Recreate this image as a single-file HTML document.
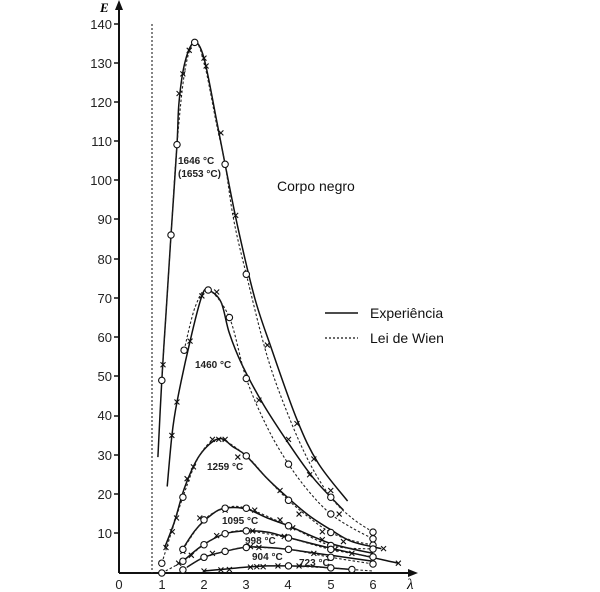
<!DOCTYPE html>
<html><head><meta charset="utf-8"><style>
html,body{margin:0;padding:0;background:#fff;}
svg{display:block;font-family:"Liberation Sans",sans-serif;}
</style></head><body>
<svg id="s" width="600" height="592" viewBox="0 0 600 592" xmlns="http://www.w3.org/2000/svg">
<g font-size="13" fill="#222" text-anchor="end">
<text x="112" y="29">140</text><text x="112" y="68">130</text><text x="112" y="107">120</text>
<text x="112" y="146">110</text><text x="112" y="185">100</text><text x="112" y="224">90</text>
<text x="112" y="264">80</text><text x="112" y="303">70</text><text x="112" y="342">60</text>
<text x="112" y="381">50</text><text x="112" y="420">40</text><text x="112" y="460">30</text>
<text x="112" y="499">20</text><text x="112" y="538">10</text>
</g>
<g font-size="13" fill="#222" text-anchor="middle">
<text x="119" y="589">0</text><text x="162" y="589">1</text><text x="204" y="589">2</text>
<text x="246" y="589">3</text><text x="288" y="589">4</text><text x="331" y="589">5</text><text x="373" y="589">6</text>
</g>
<text x="100" y="12" font-size="13" font-weight="bold" font-style="italic" font-family="Liberation Serif,serif">E</text>
<text x="407" y="589" font-size="15" font-style="italic" font-family="Liberation Serif,serif">λ</text>
<line x1="119" y1="573" x2="410" y2="573" stroke="#111" stroke-width="2"/>
<line x1="119" y1="573" x2="119" y2="8" stroke="#111" stroke-width="2"/>
<polygon points="119,0 115,10 123,10" fill="#111"/>
<polygon points="418,573 408,569 408,577" fill="#111"/>
<g stroke="#111" stroke-width="1.5">
<line x1="114" y1="24" x2="119" y2="24"/><line x1="114" y1="63" x2="119" y2="63"/><line x1="114" y1="102" x2="119" y2="102"/>
<line x1="114" y1="141" x2="119" y2="141"/><line x1="114" y1="180" x2="119" y2="180"/><line x1="114" y1="219" x2="119" y2="219"/>
<line x1="114" y1="259" x2="119" y2="259"/><line x1="114" y1="298" x2="119" y2="298"/><line x1="114" y1="337" x2="119" y2="337"/>
<line x1="114" y1="376" x2="119" y2="376"/><line x1="114" y1="416" x2="119" y2="416"/><line x1="114" y1="455" x2="119" y2="455"/>
<line x1="114" y1="494" x2="119" y2="494"/><line x1="114" y1="533" x2="119" y2="533"/>
</g>
<line x1="152" y1="24" x2="152" y2="573" stroke="#333" stroke-width="1.2" stroke-dasharray="2,2"/>
<g id="curves"></g>
<g font-size="10" font-weight="bold" fill="#222">
<text x="178" y="164">1646 °C</text><text x="178" y="177">(1653 °C)</text>
<text x="195" y="368">1460 °C</text><text x="207" y="470">1259 °C</text>
<text x="222" y="524">1095 °C</text><text x="245" y="544">998 °C</text>
<text x="252" y="560">904 °C</text><text x="299" y="566">723 °C</text>
</g>
<text x="277" y="191" font-size="14" fill="#111">Corpo negro</text>
<line x1="325" y1="313" x2="358" y2="313" stroke="#111" stroke-width="1.5"/>
<text x="370" y="318" font-size="14" fill="#111">Experiência</text>
<line x1="325" y1="338" x2="358" y2="338" stroke="#111" stroke-width="1.2" stroke-dasharray="2,2"/>
<text x="370" y="343" font-size="14" fill="#111">Lei de Wien</text>
</svg>
<script>
function X(l){return 119.5+42.25*l;}function Y(e){return 573-3.93*e;}
function path(pts){var p=pts.map(function(a){return [X(a[0]),Y(a[1])];});
var d="M"+p[0][0].toFixed(1)+","+p[0][1].toFixed(1);
for(var i=0;i<p.length-1;i++){var p0=p[i-1]||p[i],p1=p[i],p2=p[i+1],p3=p[i+2]||p2;
d+=" C"+(p1[0]+(p2[0]-p0[0])/6).toFixed(1)+","+(p1[1]+(p2[1]-p0[1])/6).toFixed(1)+" "+(p2[0]-(p3[0]-p1[0])/6).toFixed(1)+","+(p2[1]-(p3[1]-p1[1])/6).toFixed(1)+" "+p2[0].toFixed(1)+","+p2[1].toFixed(1);}
return d;}
var S=[
[[0.91,29.5],[1.0,49],[1.1,66],[1.22,86],[1.36,109],[1.41,120],[1.55,130],[1.77,135],[2.0,131],[2.3,115],[2.5,104],[2.8,88],[3.2,70],[3.6,57],[4.2,39],[4.7,28],[5.4,18.3]],
[[1.13,22],[1.24,35],[1.36,43.5],[1.67,59],[1.95,70.5],[2.1,72],[2.4,69],[2.6,61],[2.9,53],[3.4,43],[4.0,33],[4.6,24],[5.3,16]],
[[1.07,6.5],[1.3,13],[1.55,22],[1.9,30],[2.35,34.2],[2.7,32],[3.0,29.8],[3.5,24],[4,19],[4.5,14.5],[5,11],[5.5,8],[6.2,6.2]],
[[1.45,5.3],[1.8,11],[2.2,15],[2.5,16.5],[3.0,16.3],[3.5,14],[4,12],[5,7.5],[6,5]],
[[1.55,3.5],[2,7.3],[2.5,10],[3,10.7],[3.5,10.4],[4,9],[5,6.3],[6.6,2.5]],
[[1.6,1.5],[2,4],[2.5,5.5],[3,6.6],[3.5,6.5],[4,6],[5,4.5],[6,3]],
[[2,0.5],[2.5,1],[3,1.5],[3.5,1.8],[4,1.8],[4.5,1.7],[5,1.3],[5.5,0.9]]];
var X1=[[1.03,53],[1.41,122],[1.5,127],[1.65,133],[2.0,131],[2.05,129],[2.4,112],[2.75,91],[3.5,58],[4.2,38],[4.6,29],[5.0,21],
[1.24,35],[1.36,43.5],[1.67,59],[1.95,70.5],[2.3,71.5],[3.3,44],[4.0,34],[4.5,25],[5.2,15],
[1.1,6.5],[1.25,10.5],[1.35,14],[1.6,24],[1.75,27],[2.2,34],[2.35,34],[2.5,34],[2.8,29.5],[3.8,21],[4.25,15],[4.8,10.5],[5.3,8],[6.25,6.2],
[1.9,14],[2.5,16],[3.2,16],[3.8,13.5],[4.1,11.5],[4.8,8.5],[5.5,5],
[1.5,5.5],[2.3,9.5],[3.15,10.7],[3.9,9.3],[5.1,6],[6.6,2.5],
[1.4,2.5],[1.7,4.5],[2.2,5],[3.1,6.7],[3.3,6.5],[4.6,5],
[2,0.5],[2.4,0.8],[2.6,0.9],[3.1,1.5],[3.25,1.6],[3.4,1.6],[3.75,1.8],[4.25,1.8]];
var C=[[1.0,49],[1.22,86],[1.36,109],[1.78,135],[2.5,104],[3.0,76],[5,19.3],[6,10.4],
[1.53,56.7],[2.1,72],[2.6,65],[3.0,49.5],[4,27.7],[5,15],[6,8.7],
[1,2.5],[1.5,19.3],[3,29.8],[4,18.5],[5,10.3],[6,7.1],
[1.5,6],[2.0,13.5],[2.5,16.5],[3.0,16.5],[4.0,12],[5.0,7],[6,6.1],
[1,0],[1.5,3],[2,7.2],[2.5,10],[3,10.7],[4,8.9],[5,6],[6,4.1],
[1.5,0.8],[2,4],[2.5,5.5],[3,6.5],[4,6],[5,4],[6,2.3],
[4,1.8],[5,1.3],[5.5,0.9]];
var D=[
[[1.0,49],[1.22,86],[1.36,109],[1.55,128],[1.78,135],[2.0,130],[2.3,114],[2.5,104],[2.7,90],[3.0,76],[3.5,55],[4.0,40],[4.5,28],[5.0,19.3],[5.5,14],[6.0,10.4]],
[[1.53,56.7],[1.8,68],[2.1,72],[2.6,65],[3.0,49.5],[3.5,37],[4.0,27.7],[4.5,20.5],[5.0,15],[5.5,11.5],[6.0,8.7]],
[[1.0,2.5],[1.5,19.3],[1.9,30],[2.35,34],[3,29.8],[3.5,24],[4,18.5],[4.5,14],[5,10.3],[5.5,8.3],[6,7.1]],
[[1.5,6],[2.0,13.5],[2.5,16.5],[3.0,16.5],[4.0,12],[5.0,7],[6,6.1]],
[[1,0],[1.5,3],[2,7.2],[2.5,10],[3,10.7],[4,8.9],[5,6],[6,4.1]],
[[1.5,0.8],[2,4],[2.5,5.5],[3,6.5],[4,6],[5,4],[6,2.3]],
[[4,1.8],[5,1.3],[5.5,0.9],[6,0.5]]];
var h="";
S.forEach(function(c){h+='<path d="'+path(c)+'" fill="none" stroke="#111" stroke-width="1.5"/>';});
D.forEach(function(c){h+='<path d="'+path(c)+'" fill="none" stroke="#222" stroke-width="1.1" stroke-dasharray="2.5,2"/>';});
X1.forEach(function(a){var x=X(a[0]),y=Y(a[1]);h+='<path d="M'+(x-2.5)+','+(y-2.5)+'l5,5M'+(x+2.5)+','+(y-2.5)+'l-5,5" stroke="#111" stroke-width="1.1"/>';});
C.forEach(function(a){h+='<circle cx="'+X(a[0]).toFixed(1)+'" cy="'+Y(a[1]).toFixed(1)+'" r="3.2" fill="#fff" stroke="#111" stroke-width="1.1"/>';});
document.getElementById("curves").innerHTML=h;
</script>
</body></html>
